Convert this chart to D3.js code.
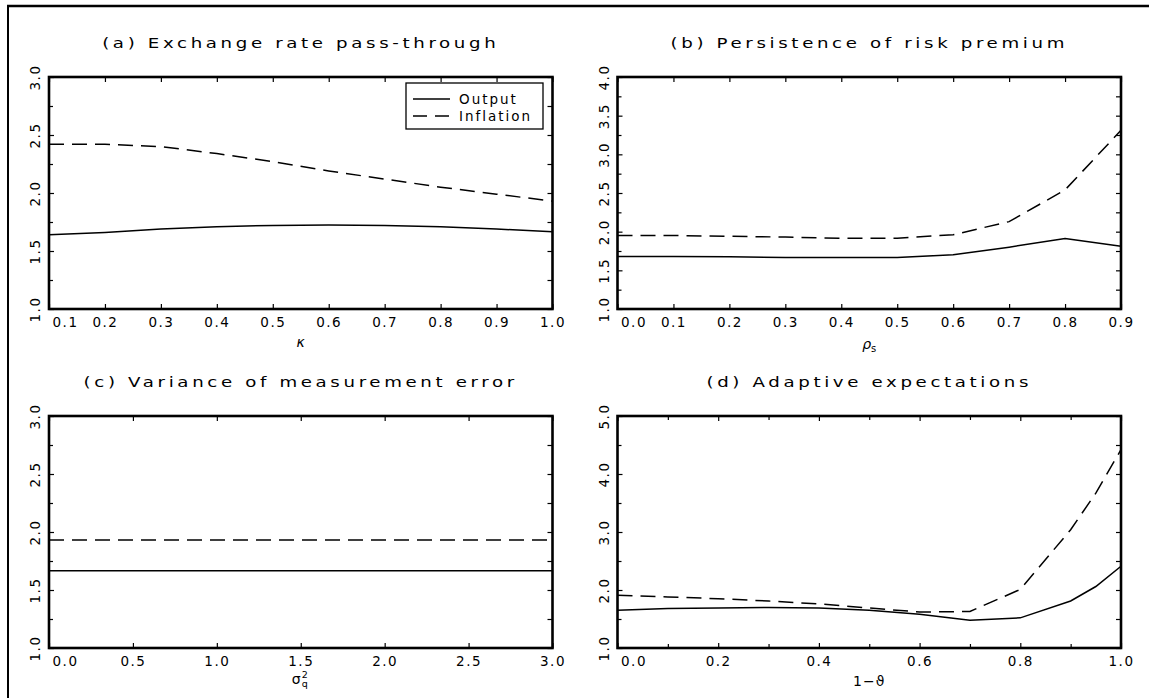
<!DOCTYPE html>
<html>
<head>
<meta charset="utf-8">
<script src="https://cdn.jsdelivr.net/npm/d3@7"></script>
<style>
  body { margin: 0; background: #fff; }
  svg text { font-family: "DejaVu Sans", sans-serif; fill: #000; }
</style>
</head>
<body>
<svg id="chart" width="1149" height="698"></svg>
<script>
// (a) exchange rate pass-through
var kappa = [0.1, 0.2, 0.3, 0.4, 0.5, 0.6, 0.7, 0.8, 0.9, 1.0];
var kappaOutput = [1.64, 1.66, 1.69, 1.71, 1.72, 1.725, 1.72, 1.71, 1.69, 1.665];
var kappaInflation = [2.42, 2.42, 2.40, 2.34, 2.27, 2.19, 2.12, 2.05, 1.99, 1.93];

// (b) persistence of risk premium
var rhoS = [0.0, 0.1, 0.2, 0.3, 0.4, 0.5, 0.6, 0.7, 0.8, 0.9];
var rhoOutput = [1.68, 1.68, 1.675, 1.665, 1.665, 1.665, 1.70, 1.80, 1.91, 1.81];
var rhoInflation = [1.95, 1.95, 1.94, 1.93, 1.915, 1.915, 1.96, 2.13, 2.54, 3.31];

// (c) variance of measurement error
var sigmaQ = [0.0, 0.5, 1.0, 1.5, 2.0, 2.5, 3.0];
var sigmaOutput = [1.665, 1.665, 1.665, 1.665, 1.665, 1.665, 1.665];
var sigmaInflation = [1.93, 1.93, 1.93, 1.93, 1.93, 1.93, 1.93];

// (d) adaptive expectations
var theta = [0.0, 0.1, 0.2, 0.3, 0.4, 0.5, 0.6, 0.7, 0.8, 0.9, 0.95, 1.0];
var thetaOutput = [1.65, 1.68, 1.69, 1.70, 1.69, 1.65, 1.58, 1.48, 1.52, 1.81, 2.06, 2.41];
var thetaInflation = [1.91, 1.88, 1.85, 1.81, 1.76, 1.69, 1.62, 1.63, 2.01, 3.04, 3.67, 4.42];

// tick values
var kappaTicks = [0.1, 0.2, 0.3, 0.4, 0.5, 0.6, 0.7, 0.8, 0.9, 1.0];
var rhoTicks = [0.0, 0.1, 0.2, 0.3, 0.4, 0.5, 0.6, 0.7, 0.8, 0.9];
var sigmaTicks = [0.0, 0.5, 1.0, 1.5, 2.0, 2.5, 3.0];
var thetaTicks = [0.0, 0.2, 0.4, 0.6, 0.8, 1.0];
var thetaMinor = [0.1, 0.3, 0.5, 0.7, 0.9];
var yTicks3 = [1.0, 1.5, 2.0, 2.5, 3.0];
var yMinor3 = [1.25, 1.75, 2.25, 2.75];
var yTicks4 = [1.0, 1.5, 2.0, 2.5, 3.0, 3.5, 4.0];
var yMinor4 = [1.25, 1.75, 2.25, 2.75, 3.25, 3.75];
var yTicks5 = [1.0, 2.0, 3.0, 4.0, 5.0];
var yMinor5 = [1.5, 2.5, 3.5, 4.5];

var seriesNames = ["Output", "Inflation"];

var svg = d3.select("#chart");
var fmt = d3.format(".1f");

// page frame (left and top only)
svg.append("line").attr("x1", 8).attr("y1", 5).attr("x2", 8).attr("y2", 698)
	.style("stroke", "#000").style("stroke-width", 2);
svg.append("line").attr("x1", 7).attr("y1", 6).attr("x2", 1149).attr("y2", 6)
	.style("stroke", "#000").style("stroke-width", 2.5);

var col_x = [49, 617.5];
var row_y = [77, 416];
var pw = 503.5, ph = 232;

var panels = [
	{title: "(a) Exchange rate pass-through", col: 0, row: 0, xs: kappa, out: kappaOutput, inf: kappaInflation,
	 xdom: [0.1, 1.0], xt: kappaTicks, xm: [], ydom: [1, 3], yt: yTicks3, ym: yMinor3, label: "kappa", legend: true},
	{title: "(b) Persistence of risk premium", col: 1, row: 0, xs: rhoS, out: rhoOutput, inf: rhoInflation,
	 xdom: [0.0, 0.9], xt: rhoTicks, xm: [], ydom: [1, 4], yt: yTicks4, ym: yMinor4, label: "rho"},
	{title: "(c) Variance of measurement error", col: 0, row: 1, xs: sigmaQ, out: sigmaOutput, inf: sigmaInflation,
	 xdom: [0.0, 3.0], xt: sigmaTicks, xm: [], ydom: [1, 3], yt: yTicks3, ym: yMinor3, label: "sigma"},
	{title: "(d) Adaptive expectations", col: 1, row: 1, xs: theta, out: thetaOutput, inf: thetaInflation,
	 xdom: [0.0, 1.0], xt: thetaTicks, xm: thetaMinor, ydom: [1, 5], yt: yTicks5, ym: yMinor5, label: "theta"}
];

panels.forEach(function(p) {
	var g = svg.append("g").attr("transform", "translate(" + col_x[p.col] + "," + row_y[p.row] + ")");
	var x = d3.scaleLinear().domain(p.xdom).range([0, pw]);
	var y = d3.scaleLinear().domain(p.ydom).range([ph, 0]);

	// title, stretched sideways like the plotter font
	g.append("text")
		.attr("transform", "translate(" + (pw / 2) + ",-29) scale(1.3,1)")
		.attr("text-anchor", "middle")
		.style("font-size", "14px")
		.style("letter-spacing", "2.8px")
		.text(p.title);

	// bottom axis with labels
	var xb = g.append("g").attr("transform", "translate(0," + ph + ")")
		.call(d3.axisBottom(x).tickValues(p.xt).tickSizeInner(-5).tickSizeOuter(0).tickPadding(8).tickFormat(fmt));
	xb.selectAll("text").style("font-size", "13.5px").style("letter-spacing", "1.5px").attr("dy", "0.75em");
	xb.selectAll(".tick").filter(function(d, i) { return i === 0; })
		.select("text").attr("text-anchor", "start").attr("x", 3);
	if (p.xm.length) {
		g.append("g").attr("transform", "translate(0," + ph + ")")
			.call(d3.axisBottom(x).tickValues(p.xm).tickSizeInner(-4).tickSizeOuter(0).tickFormat(""));
		g.append("g").call(d3.axisTop(x).tickValues(p.xm).tickSizeInner(-4).tickSizeOuter(0).tickFormat(""));
	}
	g.append("g").call(d3.axisTop(x).tickValues(p.xt).tickSizeInner(-5).tickSizeOuter(0).tickFormat(""));

	// left axis with rotated labels
	var yl = g.append("g")
		.call(d3.axisLeft(y).tickValues(p.yt).tickSizeInner(-5).tickSizeOuter(0).tickFormat(fmt));
	yl.selectAll("text")
		.attr("x", null).attr("dy", null)
		.attr("text-anchor", "middle")
		.attr("transform", "translate(-9,0) rotate(-90)")
		.style("font-size", "13.5px").style("letter-spacing", "1.5px");
	g.append("g").call(d3.axisLeft(y).tickValues(p.ym).tickSizeInner(-4).tickSizeOuter(0).tickFormat(""));
	g.append("g").attr("transform", "translate(" + pw + ",0)")
		.call(d3.axisRight(y).tickValues(p.yt.concat(p.ym)).tickSizeInner(-5).tickSizeOuter(0).tickFormat(""));

	g.selectAll(".domain").remove();
	g.selectAll(".tick line").style("stroke", "#000").style("stroke-width", 1.2);

	// series
	var line = d3.line().x(function(d) { return x(d[0]); }).y(function(d) { return y(d[1]); });
	g.append("path")
		.datum(d3.zip(p.xs, p.out))
		.attr("d", line)
		.style("fill", "none").style("stroke", "#000").style("stroke-width", 1.5);
	g.append("path")
		.datum(d3.zip(p.xs, p.inf))
		.attr("d", line)
		.style("fill", "none").style("stroke", "#000").style("stroke-width", 1.5)
		.style("stroke-dasharray", "15,8");

	// frame
	g.append("rect").attr("width", pw).attr("height", ph)
		.style("fill", "none").style("stroke", "#000").style("stroke-width", 2.6);

	// x axis label
	var lab = g.append("text").attr("x", pw / 2).attr("y", ph + 38)
		.attr("text-anchor", "middle").style("font-size", "14px");
	if (p.label === "kappa") {
		lab.style("font-style", "italic").text("\u03ba");
	} else if (p.label === "rho") {
		lab.attr("y", ph + 40).style("font-style", "italic").text("\u03c1");
		lab.append("tspan").attr("dy", 3).style("font-size", "10px").style("font-style", "normal").text("s");
	} else if (p.label === "sigma") {
		// sigma with stacked superscript 2 and subscript q, kept in one text
		lab.attr("x", pw / 2 - 9).attr("y", ph + 36).attr("text-anchor", "start");
		lab.append("tspan").text("\u03c3");
		lab.append("tspan").attr("dx", 1).attr("dy", -6.5).style("font-size", "9.5px").text("2");
		lab.append("tspan").attr("dx", -6).attr("dy", 9).style("font-size", "9.5px").text("q");
	} else {
		lab.attr("y", ph + 38).style("letter-spacing", "1px").text("1\u2212\u03d1");
	}

	// legend
	if (p.legend) {
		var lg = g.append("g").attr("transform", "translate(357,6)");
		lg.append("rect").attr("width", 137).attr("height", 46)
			.style("fill", "#fff").style("stroke", "#000").style("stroke-width", 1.3);
		seriesNames.forEach(function(name, i) {
			lg.append("line").attr("x1", 7).attr("x2", 44)
				.attr("y1", 16 + i * 17).attr("y2", 16 + i * 17)
				.style("stroke", "#000").style("stroke-width", 1.5)
				.style("stroke-dasharray", i === 1 ? "14,8" : null);
			lg.append("text").attr("x", 53).attr("y", 21 + i * 17)
				.style("font-size", "13.5px").style("letter-spacing", "2px").text(name);
		});
	}
});
</script>
</body>
</html>
